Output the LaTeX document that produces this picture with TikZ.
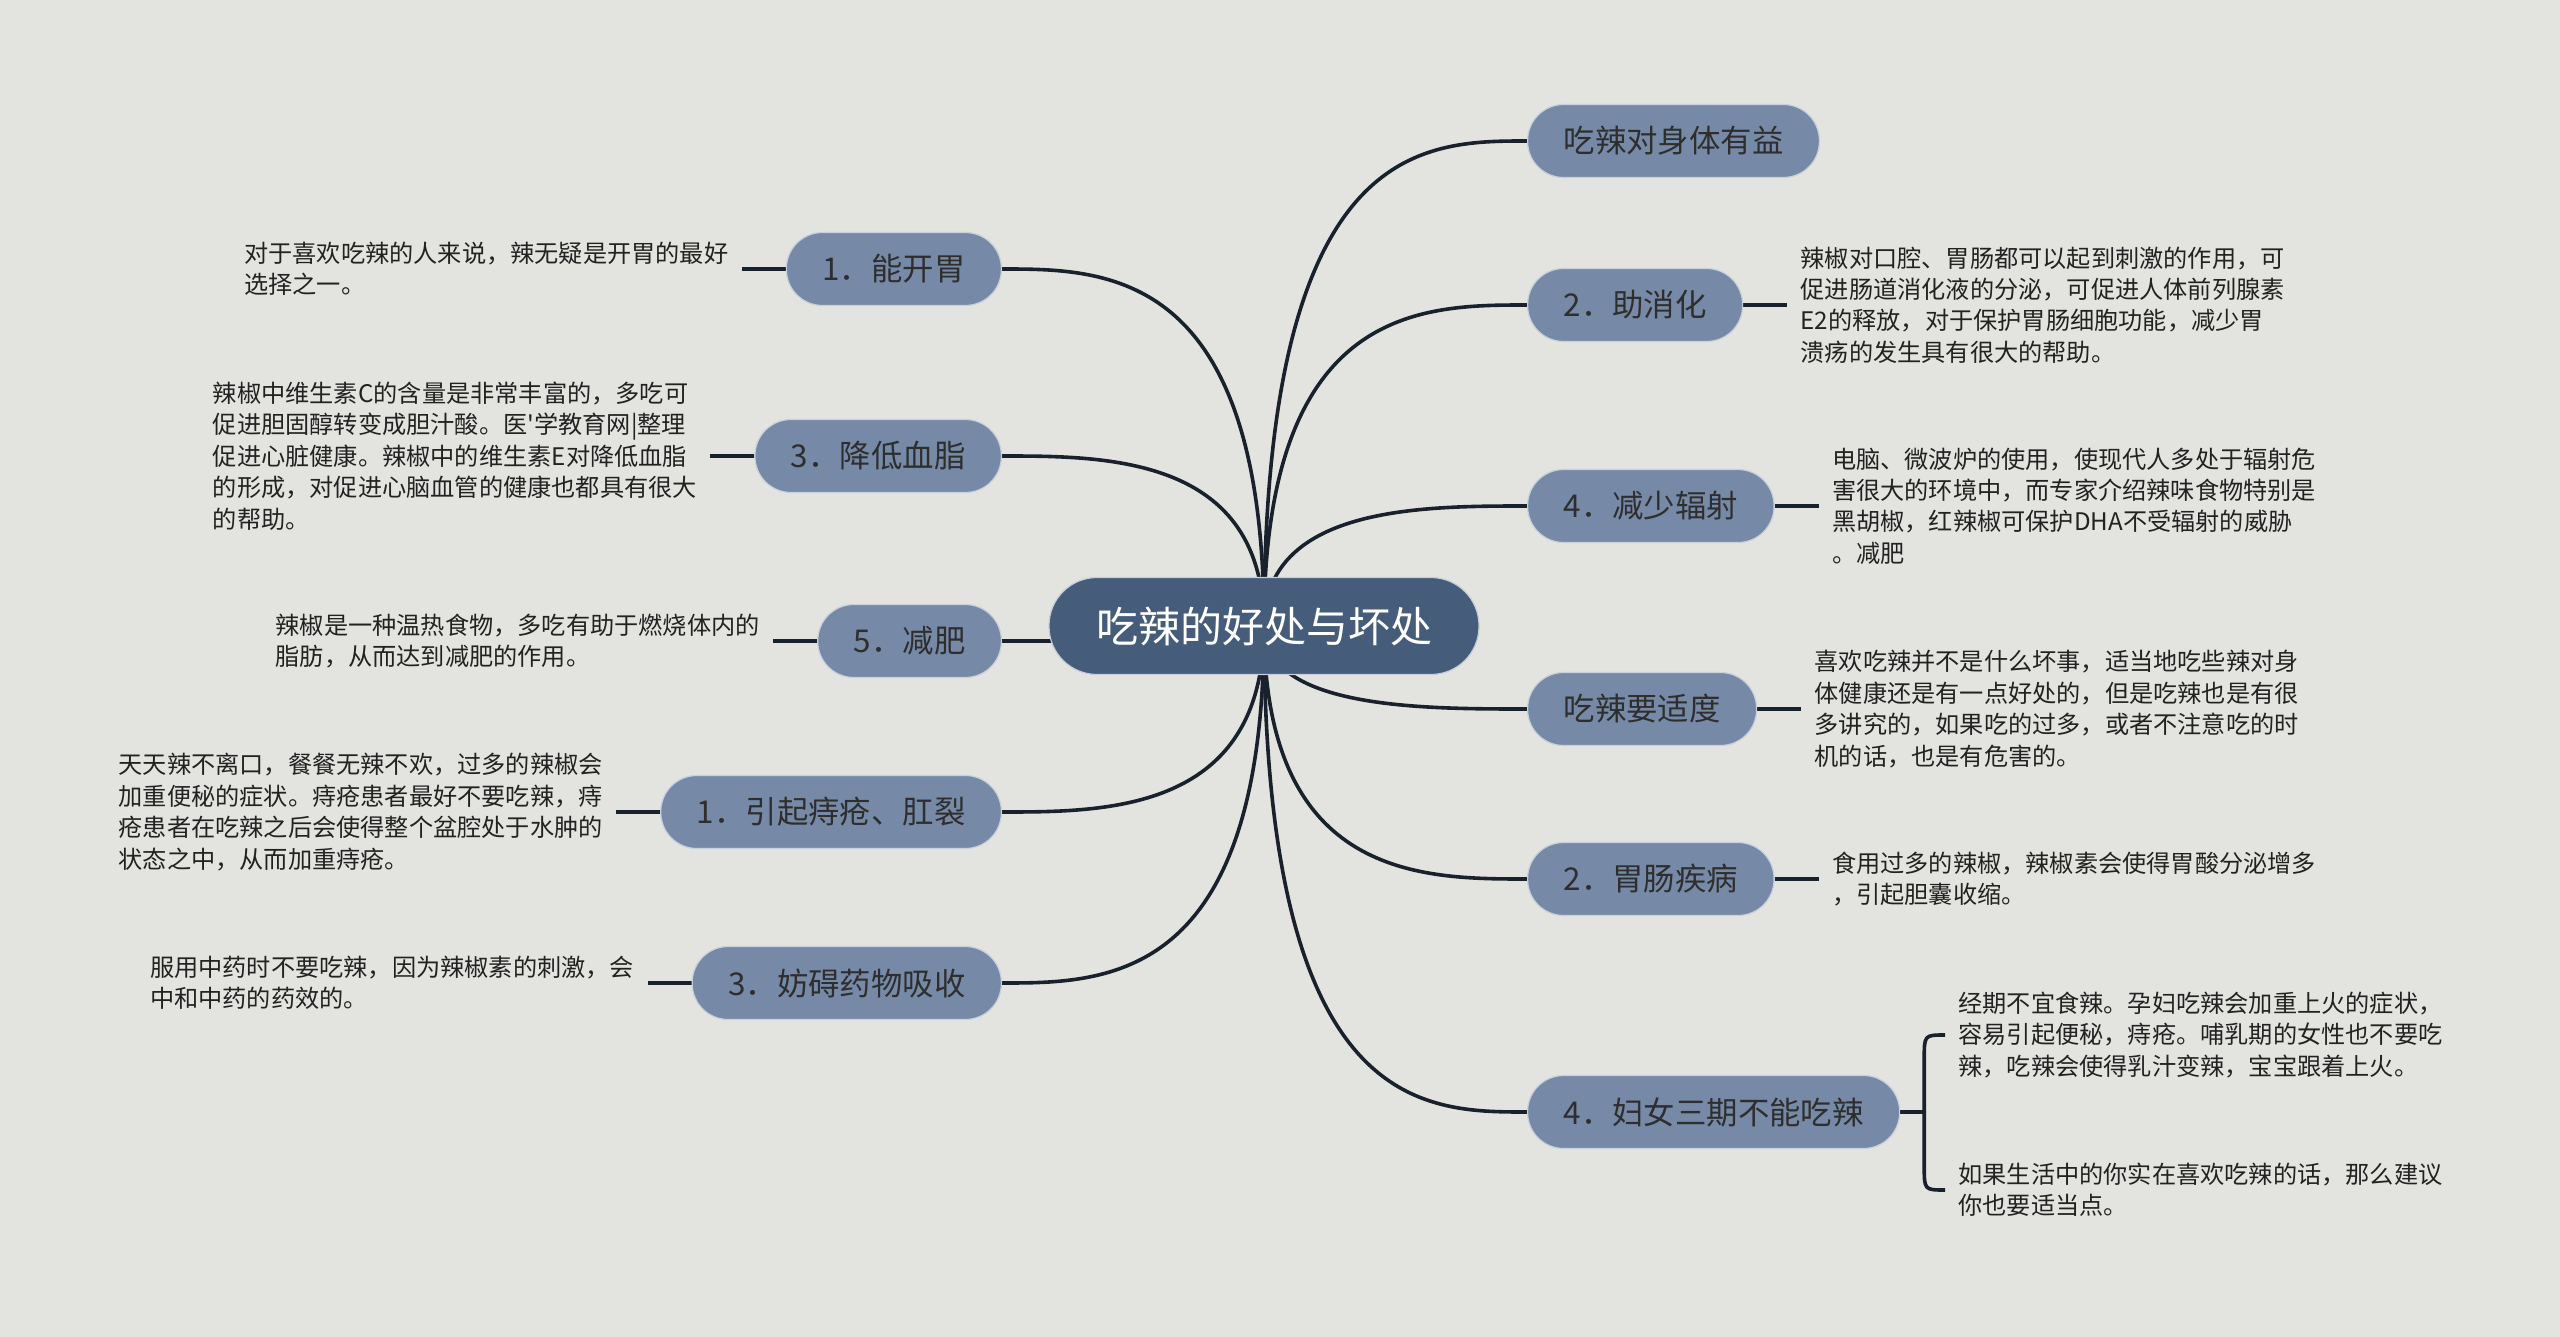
\documentclass[tikz,border=0pt]{standalone}
\usepackage{fontspec}
\setmainfont{Noto Sans CJK SC}[Ligatures=TeXOff]
\usetikzlibrary{calc}
\definecolor{bgc}{HTML}{E3E4E0}
\definecolor{rootc}{HTML}{455C7A}
\definecolor{branchc}{HTML}{768AA7}
\definecolor{linec}{HTML}{18212C}
\definecolor{btext}{HTML}{2E2E2E}
\definecolor{ltext}{HTML}{222222}
\pgfdeclarelayer{bg}
\pgfdeclarelayer{links}
\pgfsetlayers{bg,links,main}
\begin{document}
\begin{tikzpicture}[x=0.5pt,y=-0.5pt,
  rootnode/.style={fill=rootc, draw=white!70!rootc, line width=0.6pt, rounded corners=24pt,
    minimum height=48.5pt, minimum width=215pt, text=white,
    font=\fontsize{21pt}{24pt}\selectfont, inner sep=0pt},
  branch/.style={fill=branchc, draw=white!60!branchc, line width=0.6pt, rounded corners=18pt,
    minimum height=36.5pt, inner xsep=18pt, inner ysep=0pt, text=btext,
    font=\fontsize{15.7pt}{18pt}\selectfont},
  leaf/.style={align=left, text=ltext, font=\fontsize{12.1pt}{15.7pt}\selectfont,
    inner xsep=6.5pt, inner ysep=2pt},
  link/.style={draw=linec, line width=1.8pt},
]
\useasboundingbox (0,0) rectangle (2560,1337);
\begin{pgfonlayer}{bg}
\fill[bgc] (0,0) rectangle (2560,1337);
\end{pgfonlayer}

% root
\node[rootnode] (root) at (1264,626) {吃辣的好处与坏处};

% right branches
\node[branch, anchor=west] (r1) at (1527,141) {吃辣对身体有益};
\node[branch, anchor=west] (r2) at (1527,305) {2．助消化};
\node[branch, anchor=west] (r3) at (1527,506) {4．减少辐射};
\node[branch, anchor=west] (r4) at (1527,709) {吃辣要适度};
\node[branch, anchor=west] (r5) at (1527,879) {2．胃肠疾病};
\node[branch, anchor=west] (r6) at (1527,1112) {4．妇女三期不能吃辣};

% left branches
\node[branch, anchor=east] (l1) at (1002,269) {1．能开胃};
\node[branch, anchor=east] (l2) at (1002,456) {3．降低血脂};
\node[branch, anchor=east] (l3) at (1002,641) {5．减肥};
\node[branch, anchor=east] (l4) at (1002,812) {1．引起痔疮、肛裂};
\node[branch, anchor=east] (l5) at (1002,983) {3．妨碍药物吸收};

% right leaves
\node[leaf, anchor=west] (r2t) at ($(r2.east)+(22pt,0)$) {辣椒对口腔、胃肠都可以起到刺激的作用，可\\促进肠道消化液的分泌，可促进人体前列腺素\\E2的释放，对于保护胃肠细胞功能，减少胃\\溃疡的发生具有很大的帮助。};
\node[leaf, anchor=west] (r3t) at ($(r3.east)+(22pt,0)$) {电脑、微波炉的使用，使现代人多处于辐射危\\害很大的环境中，而专家介绍辣味食物特别是\\黑胡椒，红辣椒可保护DHA不受辐射的威胁\\。减肥};
\node[leaf, anchor=west] (r4t) at ($(r4.east)+(22pt,0)$) {喜欢吃辣并不是什么坏事，适当地吃些辣对身\\体健康还是有一点好处的，但是吃辣也是有很\\多讲究的，如果吃的过多，或者不注意吃的时\\机的话，也是有危害的。};
\node[leaf, anchor=west] (r5t) at ($(r5.east)+(22pt,0)$) {食用过多的辣椒，辣椒素会使得胃酸分泌增多\\，引起胆囊收缩。};
\coordinate (r6j) at ($(r6.east)+(12pt,0)$);
\node[leaf, anchor=west] (r6a) at (1945,1035) {经期不宜食辣。孕妇吃辣会加重上火的症状，\\容易引起便秘，痔疮。哺乳期的女性也不要吃\\辣，吃辣会使得乳汁变辣，宝宝跟着上火。};
\node[leaf, anchor=west] (r6b) at (1945,1190) {如果生活中的你实在喜欢吃辣的话，那么建议\\你也要适当点。};

% left leaves
\node[leaf, anchor=east] (l1t) at ($(l1.west)+(-22pt,0)$) {对于喜欢吃辣的人来说，辣无疑是开胃的最好\\选择之一。};
\node[leaf, anchor=east] (l2t) at ($(l2.west)+(-22pt,0)$) {辣椒中维生素C的含量是非常丰富的，多吃可\\促进胆固醇转变成胆汁酸。医'学教育网|整理\\促进心脏健康。辣椒中的维生素E对降低血脂\\的形成，对促进心脑血管的健康也都具有很大\\的帮助。};
\node[leaf, anchor=east] (l3t) at ($(l3.west)+(-22pt,0)$) {辣椒是一种温热食物，多吃有助于燃烧体内的\\脂肪，从而达到减肥的作用。};
\node[leaf, anchor=east] (l4t) at ($(l4.west)+(-22pt,0)$) {天天辣不离口，餐餐无辣不欢，过多的辣椒会\\加重便秘的症状。痔疮患者最好不要吃辣，痔\\疮患者在吃辣之后会使得整个盆腔处于水肿的\\状态之中，从而加重痔疮。};
\node[leaf, anchor=east] (l5t) at ($(l5.west)+(-22pt,0)$) {服用中药时不要吃辣，因为辣椒素的刺激，会\\中和中药的药效的。};

\begin{pgfonlayer}{links}
\foreach \t/\a in {r1/west,r2/west,r3/west,r4/west,r5/west,r6/west,l1/east,l2/east,l3/east,l4/east,l5/east}
  \draw[link] let \p1=(root.center), \p2=(\t.\a) in
    (\p1) .. controls (\x1,\y2) and ({\x1+0.6*(\x2-\x1)},\y2) .. (\p2);
\draw[link] (r2.east) -- (r2t.west);
\draw[link] (r3.east) -- (r3t.west);
\draw[link] (r4.east) -- (r4t.west);
\draw[link] (r5.east) -- (r5t.west);
\draw[link] (l1.west) -- (l1t.east);
\draw[link] (l2.west) -- (l2t.east);
\draw[link] (l3.west) -- (l3t.east);
\draw[link] (l4.west) -- (l4t.east);
\draw[link] (l5.west) -- (l5t.east);
\draw[link] (r6.east) -- (r6j);
\draw[link] let \p1=(r6j), \p2=(r6a.west), \p3=(r6b.west) in
  (\p2) .. controls (\x1,\y2) .. (\x1,{\y2-12pt}) -- (\x1,{\y3+12pt}) .. controls (\x1,\y3) .. (\p3);
\end{pgfonlayer}
\end{tikzpicture}
\end{document}
